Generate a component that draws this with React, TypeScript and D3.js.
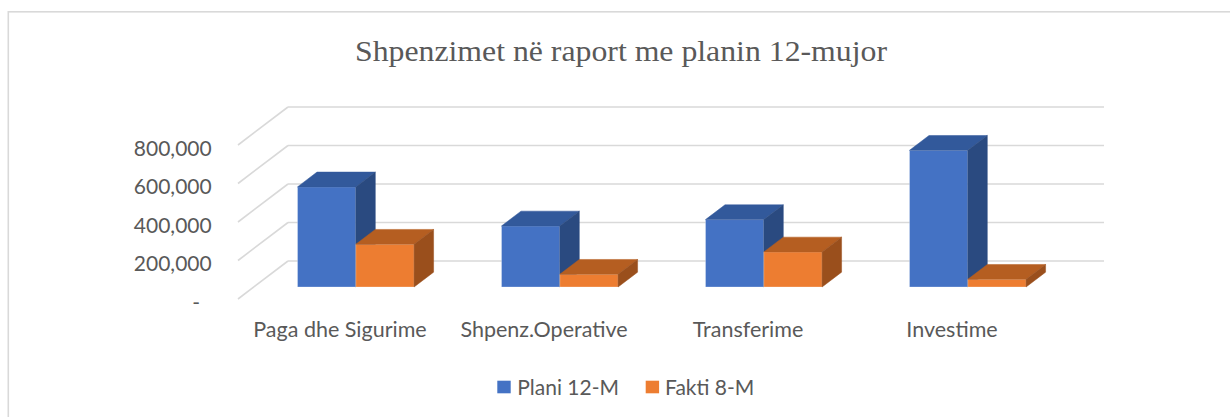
import React from "react";
import * as d3 from "d3";

const categories = ["Paga dhe Sigurime", "Shpenz.Operative", "Transferime", "Investime"];
const seriesNames = ["Plani 12-M", "Fakti 8-M"];
const plani = [520000, 317000, 350000, 710000];
const fakti = [222000, 66000, 182000, 40000];
const yTicks = [0, 200000, 400000, 600000, 800000];
const title = "Shpenzimet në raport me planin 12-mujor";

const W = 1230;
const H = 417;
const FONT = "Lato, 'Open Sans', sans-serif";
const TEXT = "#595959";
const GRID = "#d9d9d9";

const faces = [
  { front: "#4472c4", top: "#32599b", side: "#2a4a80" },
  { front: "#ed7d31", top: "#b55e21", side: "#9a4f1c" },
];

export default function App() {
  // projection: front floor-left corner, depth vector
  const ox = 238;
  const oy = 299;
  const dX = 50;
  const dY = -38;
  const plotW = 816;
  const z0 = 0.316;
  const z1 = 0.706;

  const y = d3.scaleLinear().domain([0, 800000]).range([0, 154]);
  const x = d3.scaleBand<string>().domain(categories).range([0, plotW]).paddingInner(0).paddingOuter(0);
  const barW = x.bandwidth() / 3.5;
  const xs = d3.scaleBand<string>().domain(seriesNames).range([0, barW * 2]);
  const groupPad = (x.bandwidth() - barW * 2) / 2;

  const values = [plani, fakti];

  const P = (px: number, v: number, z: number): [number, number] => [ox + px + z * dX, oy - y(v) + z * dY];
  const poly = (pts: [number, number][]) => pts.map((p) => p.join(",")).join(" ");

  const bars: JSX.Element[] = [];
  categories.forEach((c, ci) => {
    seriesNames.forEach((s, si) => {
      const v = values[si][ci];
      const l = (x(c) as number) + groupPad + (xs(s) as number);
      const r = l + barW;
      const f = faces[si];
      const front = [P(l, 0, z0), P(r, 0, z0), P(r, v, z0), P(l, v, z0)];
      const top = [P(l, v, z0), P(r, v, z0), P(r, v, z1), P(l, v, z1)];
      const side = [P(r, 0, z0), P(r, 0, z1), P(r, v, z1), P(r, v, z0)];
      bars.push(
        <g key={c + s}>
          <polygon points={poly(front)} fill={f.front} stroke="#ffffff" strokeOpacity={0.35} strokeWidth={0.8} />
          <polygon points={poly(top)} fill={f.top} stroke={f.top} strokeWidth={0.5} />
          <polygon points={poly(side)} fill={f.side} stroke={f.side} strokeWidth={0.5} />
        </g>
      );
    });
  });

  return (
    <div style={{ position: "absolute", left: 0, top: 0, width: W, height: H }}>
      <svg width={W} height={H} style={{ display: "block", background: "#ffffff" }}>
        <rect x={8.3} y={11.8} width={W + 20} height={H + 20} fill="#ffffff" stroke={GRID} strokeWidth={1.6} />
        <text
          x={621}
          y={61}
          textAnchor="middle"
          fontFamily="'Liberation Serif', 'Times New Roman', serif"
          fontSize={29}
          fill={TEXT}
          textLength={532}
          lengthAdjust="spacingAndGlyphs"
        >
          {title}
        </text>
        {yTicks.map((t) => {
          const a = P(0, t, 0);
          const b = P(0, t, 1);
          const e = P(plotW, t, 1);
          return (
            <g key={t}>
              <line x1={a[0]} y1={a[1]} x2={b[0]} y2={b[1]} stroke={GRID} strokeWidth={1.6} />
              <line x1={b[0]} y1={b[1]} x2={e[0]} y2={e[1]} stroke={GRID} strokeWidth={1.6} />
              <text
                x={t === 0 ? 200 : 211.7}
                y={a[1] + 10.6}
                textAnchor="end"
                fontFamily={FONT}
                fontSize={21}
                fill={TEXT}
              >
                {t === 0 ? "-" : d3.format(",")(t)}
              </text>
            </g>
          );
        })}
        {bars}
        {categories.map((c) => (
          <text
            key={c}
            x={ox + (x(c) as number) + x.bandwidth() / 2}
            y={336.7}
            textAnchor="middle"
            fontFamily={FONT}
            fontSize={21.5}
            fill={TEXT}
          >
            {c}
          </text>
        ))}
        <g>
          <rect x={497.3} y={380.7} width={13.4} height={12.6} fill={faces[0].front} />
          <text x={517.3} y={395} fontFamily={FONT} fontSize={21} fill={TEXT}>
            {seriesNames[0]}
          </text>
          <rect x={645.7} y={380.7} width={13.4} height={12.6} fill={faces[1].front} />
          <text x={665} y={395} fontFamily={FONT} fontSize={21} fill={TEXT}>
            {seriesNames[1]}
          </text>
        </g>
      </svg>
    </div>
  );
}
